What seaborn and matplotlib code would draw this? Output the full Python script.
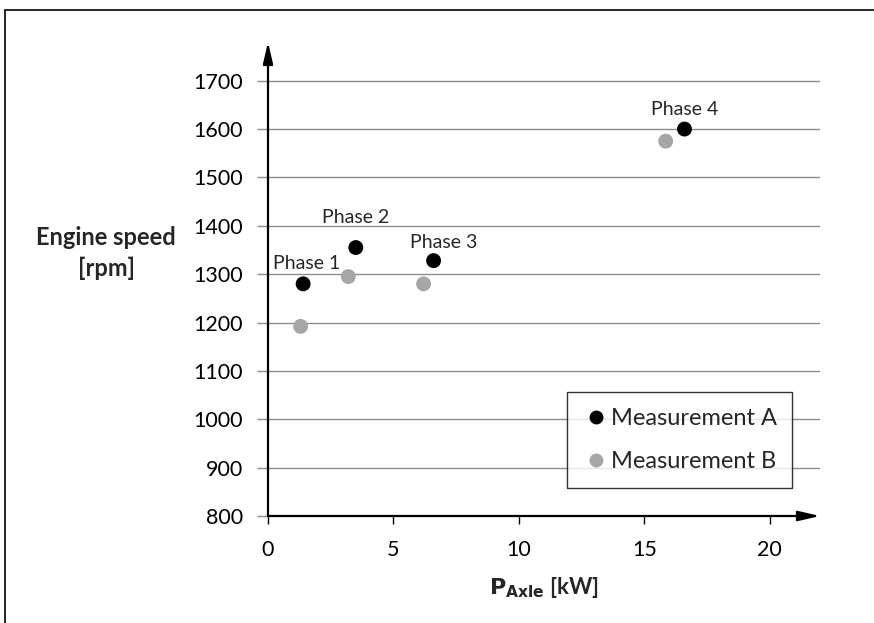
import matplotlib
matplotlib.use("Agg")
import matplotlib.pyplot as plt
import seaborn as sns
import pandas as pd
from matplotlib.lines import Line2D

# Data
phases = ["Phase 1", "Phase 2", "Phase 3", "Phase 4"]
power_a = [1.4, 3.5, 6.6, 16.6]
speed_a = [1280, 1355, 1328, 1600]
power_b = [1.3, 3.2, 6.2, 15.85]
speed_b = [1192, 1295, 1280, 1575]
series_names = ["Measurement A", "Measurement B"]
x_ticks = [0, 5, 10, 15, 20]
y_ticks = [800, 900, 1000, 1100, 1200, 1300, 1400, 1500, 1600, 1700]

df = pd.DataFrame({
    "power": power_a + power_b,
    "speed": speed_a + speed_b,
    "series": [series_names[0]] * 4 + [series_names[1]] * 4,
})

sns.set_style("white")
plt.rcParams["font.family"] = ["Lato", "DejaVu Sans"]

fig = plt.figure(figsize=(8.74, 6.23), dpi=100)
ax = fig.add_axes([268 / 874, 1 - 516 / 623, (820 - 268) / 874, (516 - 42) / 623])

palette = {series_names[0]: "#000000", series_names[1]: "#A6A6A6"}
sns.scatterplot(data=df, x="power", y="speed", hue="series", palette=palette,
                s=115, edgecolor="none", ax=ax, legend=False, zorder=3)

ax.set_xlim(0, 22)
ax.set_ylim(800, 1780)
ax.set_xticks(x_ticks)
ax.set_yticks(y_ticks)
ax.tick_params(axis="both", labelsize=15.5, colors="#000000")
ax.tick_params(axis="y", length=8, width=1, color="#8c8c8c", pad=10, direction="out", left=True)
ax.tick_params(axis="x", length=6, width=1, color="#000000", pad=11, direction="out", bottom=True)
for sp in ax.spines.values():
    sp.set_visible(False)

# gridlines
for yv in y_ticks[1:]:
    ax.axhline(yv, color="#8c8c8c", lw=1, zorder=1)

# axis arrows
ax.annotate("", xy=(1.0, 0), xytext=(0, 0), xycoords="axes fraction",
            arrowprops=dict(arrowstyle="-|>,head_length=1.3,head_width=0.3", color="black", lw=1.6,
                            shrinkA=0, shrinkB=0), zorder=4)
ax.annotate("", xy=(0, 1.0), xytext=(0, 0), xycoords="axes fraction",
            arrowprops=dict(arrowstyle="-|>,head_length=1.3,head_width=0.3", color="black", lw=1.6,
                            shrinkA=0, shrinkB=0), zorder=4)

# phase labels
label_pos = [(1.55, 1322), (3.5, 1418), (7.0, 1366), (16.6, 1640)]
for name, (lx, ly) in zip(phases, label_pos):
    ax.text(lx, ly, name, ha="center", va="center", fontsize=14)

ax.set_xlabel(r"$\mathbf{P_{Axle}}$ [kW]", fontsize=16, fontweight="bold", labelpad=11)
ax.set_ylabel("")
fig.text(106 / 874, 1 - 253 / 623, "Engine speed\n[rpm]", ha="center", va="center",
         fontsize=17, fontweight="bold", linespacing=1.35)

# legend
handles = [Line2D([0], [0], marker="o", color="none", markerfacecolor=palette[n],
                  markeredgecolor="none", markersize=10, label=n) for n in series_names]
leg = ax.legend(handles=handles, loc="lower right", bbox_to_anchor=(0.95, 0.06),
                borderaxespad=0, fontsize=17, frameon=True, fancybox=False, edgecolor="black",
                handletextpad=0.1, handlelength=1.1, labelspacing=0.95, borderpad=0.65)
leg.get_frame().set_linewidth(1)

# figure border (top and left)
fig.add_artist(Line2D([5 / 874, 1], [1 - 10 / 623, 1 - 10 / 623], color="black", lw=1.2,
                      transform=fig.transFigure))
fig.add_artist(Line2D([5 / 874, 5 / 874], [0, 1 - 10 / 623], color="black", lw=1.2,
                      transform=fig.transFigure))

fig.savefig("out.png", dpi=100)
